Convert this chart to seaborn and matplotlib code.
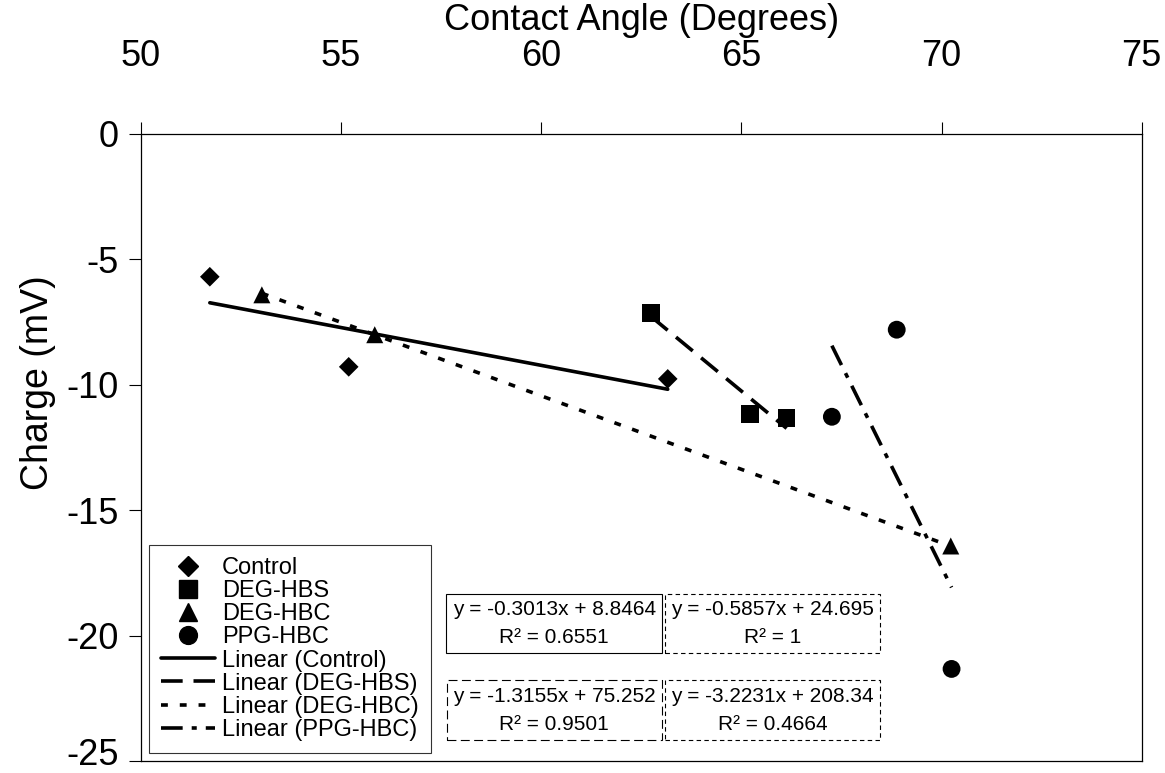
import numpy as np
import pandas as pd
import seaborn as sns
import matplotlib.pyplot as plt
from matplotlib.lines import Line2D
from matplotlib.transforms import ScaledTranslation

# data
groups = ["Control", "DEG-HBS", "DEG-HBC", "PPG-HBC"]
control_x = [51.72, 55.19, 63.16]
control_y = [-5.70, -9.29, -9.77]
hbs_x = [62.74, 65.21, 66.13]
hbs_y = [-7.14, -11.16, -11.32]
hbc_x = [53.02, 55.84, 70.23]
hbc_y = [-6.42, -8.01, -16.43]
ppg_x = [67.26, 68.88, 70.25]
ppg_y = [-11.28, -7.81, -21.33]

# trendline coefficients as printed on the chart
slopes = [-0.3013, -1.3155, -0.5857, -3.2231]
intercepts = [8.8464, 75.252, 24.695, 208.34]
r2_vals = ["0.6551", "0.9501", "1", "0.4664"]

xs = [control_x, hbs_x, hbc_x, ppg_x]
ys = [control_y, hbs_y, hbc_y, ppg_y]

df = pd.DataFrame({
    "angle": sum(xs, []),
    "charge": sum(ys, []),
    "group": sum([[g] * len(x) for g, x in zip(groups, xs)], []),
})

# trendlines span each group's x range
rows = []
for g, x, m, b in zip(groups, xs, slopes, intercepts):
    for xv in (min(x), max(x)):
        rows.append({"angle": xv, "charge": m * xv + b, "group": g})
trend = pd.DataFrame(rows)

sns.set_style("ticks")
plt.rcParams["font.family"] = ["Liberation Sans", "DejaVu Sans"]
plt.rcParams["axes.unicode_minus"] = False
plt.rcParams["text.color"] = "black"
plt.rcParams["axes.labelcolor"] = "black"
plt.rcParams["xtick.color"] = "black"
plt.rcParams["ytick.color"] = "black"

markers = {"Control": "D", "DEG-HBS": "s", "DEG-HBC": "^", "PPG-HBC": "o"}
msizes = {"Control": 100, "DEG-HBS": 160, "DEG-HBC": 150, "PPG-HBC": 165}
dashes = {"Control": "", "DEG-HBS": (6, 3), "DEG-HBC": (1.9, 3.3),
          "PPG-HBC": (6, 2.5, 1.4, 2.5)}
lw = 2.6

fig, ax = plt.subplots(figsize=(11.65, 7.73), dpi=100)
fig.subplots_adjust(left=0.121, right=0.980, top=0.827, bottom=0.0155)

sns.lineplot(data=trend, x="angle", y="charge", style="group", dashes=dashes,
             color="black", lw=lw, legend=False, estimator=None, ax=ax)
sns.scatterplot(data=df, x="angle", y="charge", style="group", markers=markers,
                size="group", sizes=msizes, color="black", linewidth=0,
                legend=False, ax=ax, zorder=3)

ax.set_xlim(50, 75)
ax.set_ylim(-25, 0)
ax.set_xticks([50, 55, 60, 65, 70, 75])
ax.set_yticks([0, -5, -10, -15, -20, -25])
ax.xaxis.tick_top()
ax.xaxis.set_label_position("top")
ax.set_xlabel("Contact Angle (Degrees)", fontsize=26)
ax.set_ylabel("Charge (mV)", fontsize=27)
ax.xaxis.set_label_coords(0.5, 1.181)
ax.xaxis.label.set_va("center")
ax.yaxis.set_label_coords(-0.103, 0.603)
ax.yaxis.label.set_va("center")
ax.tick_params(axis="x", direction="out", length=9, width=0.8, labelsize=26, pad=34)
ax.tick_params(axis="y", direction="out", length=9, width=0.8, labelsize=26, pad=7)
for sp in ax.spines.values():
    sp.set_visible(True)
    sp.set_linewidth(0.9)
    sp.set_color("black")

# lift the bottom y label a little so it stays inside the figure
lab = ax.get_yticklabels()[-1]
lab.set_transform(lab.get_transform() + ScaledTranslation(0, 7 / 72, fig.dpi_scale_trans))

# equation boxes
eq_text = [f"y = {m}x + {b}\nR\u00b2 = {r}" for m, b, r in zip(slopes, intercepts, r2_vals)]
box_pos = [(0.413, 0.219), (0.413, 0.081), (0.631, 0.219), (0.631, 0.081)]
box_ls = ["-", (0, (8, 4)), (0, (4, 3)), (0, (4, 3))]
for txt, (bx, by), ls in zip(eq_text, box_pos, box_ls):
    ax.text(bx, by, txt, transform=ax.transAxes, ha="center", va="center",
            fontsize=15, linespacing=1.6, multialignment="center",
            bbox=dict(boxstyle="square,pad=0.3", fc="white", ec="black", lw=0.8, ls=ls))

handles = [Line2D([], [], ls="none", marker=markers[g], color="black",
                  markersize=np.sqrt(msizes[g])) for g in groups]
handles += [Line2D([], [], color="black", lw=lw,
                   ls="-" if dashes[g] == "" else (0, dashes[g])) for g in groups]
labels = groups + [f"Linear ({g})" for g in groups]
leg = ax.legend(handles, labels, loc="lower left", bbox_to_anchor=(0.008, 0.013),
                borderaxespad=0, fontsize=17, frameon=True, fancybox=False,
                edgecolor="black", handlelength=2.3, handletextpad=0.3,
                labelspacing=0.05, borderpad=0.5)
leg.get_frame().set_linewidth(0.8)

fig.savefig("out.png", dpi=100)
